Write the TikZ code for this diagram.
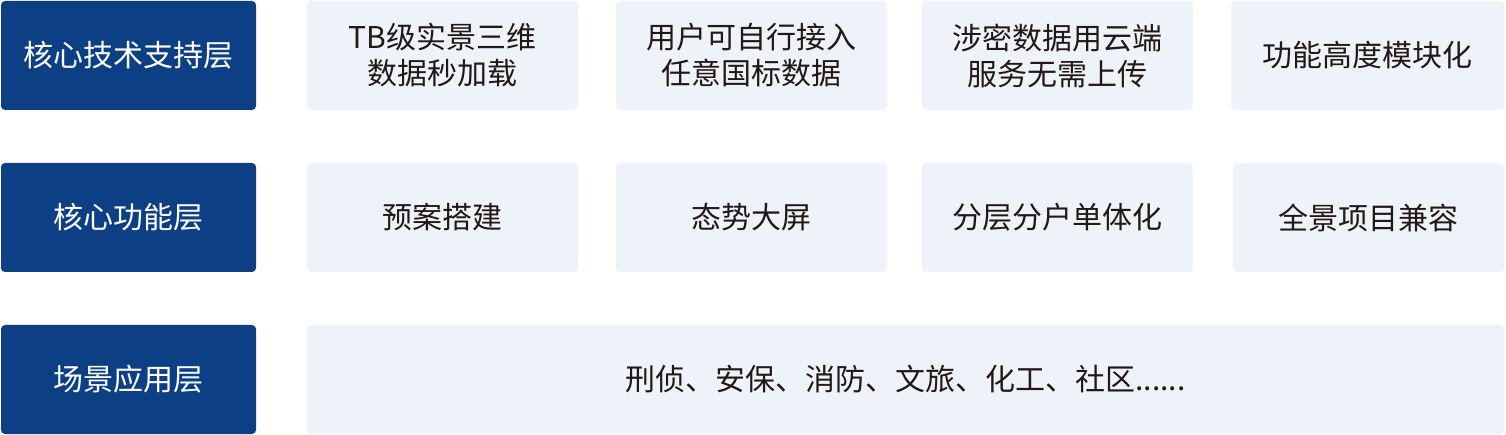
\documentclass[tikz,border=0pt]{standalone}
\usepackage{fontspec}
\setmainfont{Noto Sans CJK SC}
\definecolor{darkblue}{HTML}{0D3F85}
\definecolor{lightbox}{HTML}{EEF3FA}
\definecolor{txt}{HTML}{231815}
\begin{document}
\begin{tikzpicture}[x=1pt,y=-1pt,
  layerbox/.style={fill=darkblue,rounded corners=4pt,text=white,font=\fontsize{30}{36}\selectfont},
  itembox/.style={fill=lightbox,rounded corners=4pt,text=txt,align=center,font=\fontsize{30}{36}\selectfont}]
\useasboundingbox (0,0) rectangle (1506,435);
% layer boxes
\path[layerbox] (1,1) rectangle (256,110) node[midway] (l1) {核心技术支持层};
\path[layerbox] (1,163) rectangle (256,272) node[midway] (l2) {核心功能层};
\path[layerbox] (1,325) rectangle (256,434) node[midway] (l3) {场景应用层};
% row 1
\path[itembox] (307,1) rectangle (578,110) node[midway,align=center] (a1) {TB级实景三维\\数据秒加载};
\path[itembox] (616,1) rectangle (887,110) node[midway,align=center] (a2) {用户可自行接入\\任意国标数据};
\path[itembox] (922,1) rectangle (1193,110) node[midway,align=center] (a3) {涉密数据用云端\\服务无需上传};
\path[itembox] (1231,1) rectangle (1504,110) node[midway] (a4) {功能高度模块化};
% row 2
\path[itembox] (307,163) rectangle (578,272) node[midway] (b1) {预案搭建};
\path[itembox] (616,163) rectangle (887,272) node[midway] (b2) {态势大屏};
\path[itembox] (922,163) rectangle (1193,272) node[midway] (b3) {分层分户单体化};
\path[itembox] (1233,163) rectangle (1504,272) node[midway] (b4) {全景项目兼容};
% row 3
\path[itembox] (307,325) rectangle (1504,434) node[midway] (c1) {刑侦、安保、消防、文旅、化工、社区......};
\end{tikzpicture}
\end{document}
